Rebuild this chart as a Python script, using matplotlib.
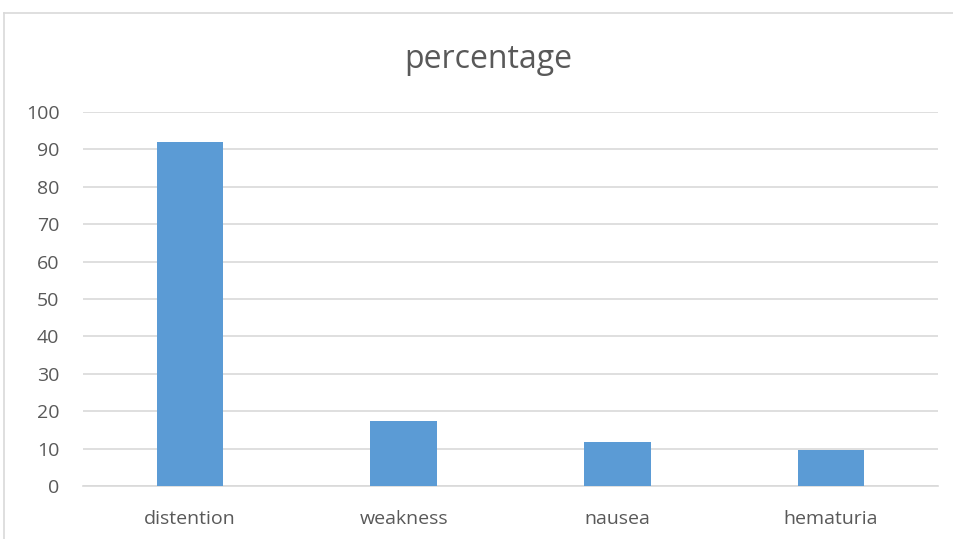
import matplotlib.pyplot as plt
from matplotlib.lines import Line2D
import numpy as np

categories = ['distention', 'weakness', 'nausea', 'hematuria']
values = [92, 17.5, 11.7, 9.7]
yticks = list(range(0, 101, 10))

plt.rcParams['font.family'] = ['Open Sans', 'DejaVu Sans']

fig = plt.figure(figsize=(9.54, 5.39), dpi=100)
ax = fig.add_axes([83 / 954, 53 / 539, 855 / 954, 374 / 539])

x = np.arange(len(categories))
ax.bar(x, values, width=0.31, color='#5b9bd5', zorder=3)

ax.set_xlim(-0.5, len(categories) - 0.5)
ax.set_ylim(0, 100)
ax.set_yticks(yticks)
ax.set_xticks(x)
ax.set_xticklabels(categories)

ax.grid(axis='y', color='#d9d9d9', linewidth=1.2, zorder=0)
for side in ['top', 'right', 'left']:
    ax.spines[side].set_visible(False)
ax.spines['bottom'].set_color('#d9d9d9')
ax.spines['bottom'].set_linewidth(1.2)
ax.tick_params(axis='both', length=0, labelsize=14, labelcolor='#595959')
ax.tick_params(axis='y', pad=17)
ax.tick_params(axis='x', pad=17)

fig.text(488 / 954, 1 - 59 / 539, 'percentage', ha='center', va='center',
         fontsize=23, color='#595959')

# outer chart frame
fig.add_artist(Line2D([4 / 954, 1.0], [1 - 13 / 539] * 2, color='#d9d9d9', linewidth=1.2))
fig.add_artist(Line2D([4 / 954] * 2, [0.0, 1 - 13 / 539], color='#d9d9d9', linewidth=1.2))

fig.savefig('out.png', dpi=100)
